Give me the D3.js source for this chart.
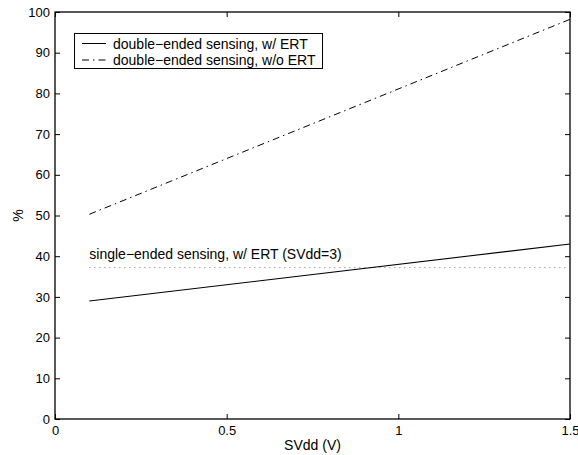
<!DOCTYPE html>
<html>
<head>
<meta charset="utf-8">
<script src="https://cdn.jsdelivr.net/npm/d3@7"></script>
<style>
  html, body { margin: 0; padding: 0; background: #fff; }
  svg { display: block; font-family: "Liberation Sans", Arial, Helvetica, sans-serif; }
</style>
</head>
<body>
<svg id="chart" width="578" height="455"></svg>
<script>
// Supply voltage samples (V)
const svdd = [0.1, 1.5];
// Double-ended sensing, with ERT (%)
const withERT = [29, 43];
// Double-ended sensing, without ERT (%)
const withoutERT = [50.3, 98.2];
// Single-ended reference level (%), SVdd = 3
const singleEnded = [37.2, 37.2];

const xTicks = [0, 0.5, 1, 1.5];
const xTickLabels = ["0", "0.5", "1", "1.5"];
const yTicks = [0, 10, 20, 30, 40, 50, 60, 70, 80, 90, 100];

const legendLabels = ["double\u2212ended sensing, w/ ERT", "double\u2212ended sensing, w/o ERT"];
const annotation = "single\u2212ended sensing, w/ ERT (SVdd=3)";

const margin = { left: 55, right: 8, top: 12, bottom: 36 };
const W = 578, H = 455;
const svg = d3.select("#chart");

const x = d3.scaleLinear().domain([0, 1.5]).range([margin.left, W - margin.right]);
const y = d3.scaleLinear().domain([0, 100]).range([H - margin.bottom, margin.top]);

const tickLen = 5;
const tickFs = 13;
const textFs = 14;

// Axes with inward ticks on all four sides
const axisB = d3.axisBottom(x).tickValues(xTicks).tickFormat((d, i) => xTickLabels[i]).tickSizeInner(-tickLen).tickSizeOuter(0).tickPadding(7);
const axisT = d3.axisTop(x).tickValues(xTicks).tickFormat("").tickSizeInner(-tickLen).tickSizeOuter(0);
const axisL = d3.axisLeft(y).tickValues(yTicks).tickFormat(d3.format("d")).tickSizeInner(-tickLen).tickSizeOuter(0).tickPadding(5);
const axisR = d3.axisRight(y).tickValues(yTicks).tickFormat("").tickSizeInner(-tickLen).tickSizeOuter(0);

function styleAxis(g) {
  g.selectAll("path.domain").remove();
  g.selectAll("line").attr("stroke", "#000").attr("stroke-width", 1);
  g.selectAll("text").attr("fill", "#000").style("font-size", tickFs + "px").style("font-family", "Liberation Sans, Arial, sans-serif");
}

svg.append("g").attr("transform", `translate(0,${y(0)})`).call(axisB).call(styleAxis);
svg.append("g").attr("transform", `translate(0,${y(100)})`).call(axisT).call(styleAxis);
svg.append("g").attr("transform", `translate(${x(0)},0)`).call(axisL).call(styleAxis);
svg.append("g").attr("transform", `translate(${x(1.5)},0)`).call(axisR).call(styleAxis);

// Plot box
svg.append("rect")
  .attr("x", x(0)).attr("y", y(100))
  .attr("width", x(1.5) - x(0)).attr("height", y(0) - y(100))
  .attr("fill", "none").attr("stroke", "#000").attr("stroke-width", 1.3);

const line = d3.line().x(d => x(d[0])).y(d => y(d[1]));
const zip = vals => svdd.map((v, i) => [v, vals[i]]);

// Single-ended reference (dotted)
svg.append("path").datum(zip(singleEnded)).attr("d", line)
  .attr("fill", "none").attr("stroke", "#555").attr("stroke-width", 0.8)
  .attr("stroke-dasharray", "1,4");

// With ERT (solid)
svg.append("path").datum(zip(withERT)).attr("d", line)
  .attr("fill", "none").attr("stroke", "#000").attr("stroke-width", 1.1);

// Without ERT (dash-dot)
const dashDot = "7,4,1.5,4";
svg.append("path").datum(zip(withoutERT)).attr("d", line)
  .attr("fill", "none").attr("stroke", "#000").attr("stroke-width", 1)
  .attr("stroke-dasharray", dashDot);

// Annotation for the single-ended level
svg.append("text")
  .attr("x", x(0.1)).attr("y", y(39.3))
  .style("font-size", textFs + "px").attr("fill", "#000")
  .text(annotation);

// Legend
const lg = svg.append("g");
lg.append("rect").attr("x", 74.5).attr("y", 33.5).attr("width", 248).attr("height", 35)
  .attr("fill", "#fff").attr("stroke", "#000").attr("stroke-width", 1);
const legendDash = [null, dashDot];
legendLabels.forEach((lab, i) => {
  const ly = 43.5 + i * 16.5;
  lg.append("line").attr("x1", 82).attr("x2", 106).attr("y1", ly).attr("y2", ly)
    .attr("stroke", "#000").attr("stroke-width", 1)
    .attr("stroke-dasharray", legendDash[i]);
  lg.append("text").attr("x", 113).attr("y", ly + 5)
    .style("font-size", textFs + "px").attr("fill", "#000").text(lab);
});

// Axis titles
svg.append("text")
  .attr("x", (x(0) + x(1.5)) / 2).attr("y", 450)
  .attr("text-anchor", "middle").style("font-size", textFs + "px").text("SVdd (V)");
svg.append("text")
  .attr("transform", `translate(23,${(y(0) + y(100)) / 2}) rotate(-90)`)
  .attr("text-anchor", "middle").style("font-size", textFs + "px").text("%");
</script>
</body>
</html>
